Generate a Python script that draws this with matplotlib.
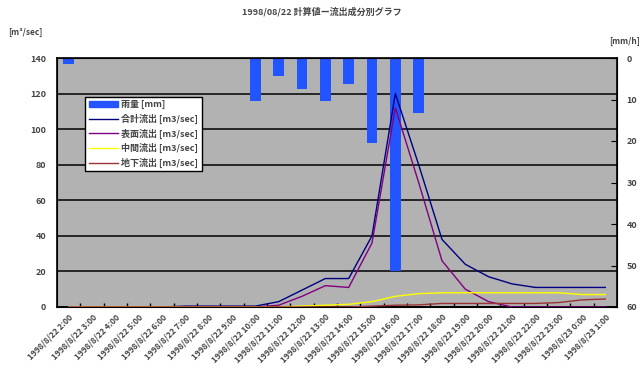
import numpy as np
import matplotlib
matplotlib.use("Agg")
import matplotlib.pyplot as plt
from matplotlib.patches import Patch
from matplotlib.lines import Line2D

plt.rcParams['font.family'] = ['Noto Sans CJK JP', 'DejaVu Sans']

# 時刻ラベル
times = ["1998/8/22 %d:00" % h for h in range(2, 24)] + ["1998/8/23 0:00", "1998/8/23 1:00"]

# 雨量 [mm/h]
rain = [1.4, 0, 0, 0, 0, 0, 0, 0, 10.4, 4.3, 7.5, 10.4, 6.3, 20.5, 51.3, 13.3,
        0, 0, 0, 0, 0, 0, 0, 0]
# 流出量 [m3/sec]
total = [0, 0, 0, 0, 0, 0.5, 0.5, 0.5, 0.5, 3, 9.5, 16, 16, 40, 120, 80,
         38, 24, 17, 13, 11, 11, 11, 11]
surface = [0, 0, 0, 0, 0, 0, 0, 0, 0, 1, 6, 12, 11, 36, 112, 70,
           26, 10, 3, 0, 0, 0, 0, 0]
middle = [0, 0, 0, 0, 0, 0, 0, 0, 0, 0, 0.5, 1, 1.5, 3, 6, 7.5,
          8, 8, 8, 8, 8, 8, 7, 7]
ground = [0, 0, 0, 0, 0, 0, 0, 0, 0, 0, 0, 0, 0, 0.5, 1, 1.2,
          2, 2, 2, 2, 2, 2.5, 4, 4.5]

x = np.arange(len(times))
txt = '#444444'

fig = plt.figure(figsize=(6.44, 3.82), dpi=100)
pos = [57 / 644, 1 - 307 / 382, 560 / 644, 249 / 382]

# 背景と目盛線（左軸）
ax = fig.add_axes(pos)
ax.set_facecolor('#B2B2B2')
ax.set_xlim(-0.5, len(x) - 0.5)
ax.set_ylim(0, 140)
ax.set_yticks(np.arange(0, 141, 20))
ax.yaxis.grid(True, color='black', linewidth=1.1)
ax.set_axisbelow(True)
ax.tick_params(axis='y', length=0, labelsize=6.5, labelcolor=txt, pad=8)
for t in ax.get_yticklabels():
    t.set_fontweight('bold')
ax.set_xticks(x)
ax.set_xticklabels(times, rotation=45, ha='right', va='top', rotation_mode='anchor',
                   fontsize=6, color=txt, fontweight='bold')
ax.set_xticks(np.arange(0.5, len(x) - 0.5, 1), minor=True)
ax.tick_params(axis='x', which='major', length=0, pad=4)
ax.tick_params(axis='x', which='minor', direction='in', length=3, width=1)
for s in ax.spines.values():
    s.set_linewidth(1.2)

# 雨量（右軸、反転）
ax2 = ax.twinx()
ax2.set_ylim(60, 0)
ax2.set_yticks(np.arange(0, 61, 10))
ax2.tick_params(axis='y', direction='in', length=4, labelsize=6.5, labelcolor=txt, pad=7)
for t in ax2.get_yticklabels():
    t.set_fontweight('bold')
ax2.bar(x, rain, width=0.45, color='#2255FF', zorder=2)
ax2.set_xlim(-0.5, len(x) - 0.5)

# 流出量の線
ax3 = ax.twinx()
ax3.set_ylim(0, 140)
ax3.set_xlim(-0.5, len(x) - 0.5)
ax3.axis('off')
ax3.plot(x, total, color='#000080', lw=1.0)
ax3.plot(x, surface, color='#800080', lw=1.0)
ax3.plot(x, middle, color='#FFFF00', lw=1.0)
ax3.plot(x, ground, color='#993333', lw=1.0)

handles = [Patch(color='#2255FF', label='雨量 [mm]'),
           Line2D([], [], color='#000080', lw=1, label='合計流出 [m3/sec]'),
           Line2D([], [], color='#800080', lw=1, label='表面流出 [m3/sec]'),
           Line2D([], [], color='#FFFF00', lw=1, label='中間流出 [m3/sec]'),
           Line2D([], [], color='#993333', lw=1, label='地下流出 [m3/sec]')]
leg = ax3.legend(handles=handles, loc='upper left', bbox_to_anchor=(0.05, 0.845),
                 fontsize=6.5, frameon=True, fancybox=False, framealpha=1,
                 edgecolor='black', borderpad=0.4, labelspacing=0.5,
                 handlelength=3.2, handletextpad=0.4, borderaxespad=0)
leg.get_frame().set_linewidth(1.0)
for t in leg.get_texts():
    t.set_color(txt)
    t.set_fontweight('bold')

fig.text(0.5, 1 - 12 / 382, '1998/08/22 計算値ー流出成分別グラフ', ha='center', va='center',
         fontsize=6.5, color=txt, fontweight='bold')
fig.text(8 / 644, 1 - 32 / 382, '[m³/sec]', ha='left', va='center', fontsize=6, color=txt,
         fontweight='bold')
fig.text(640 / 644, 1 - 41 / 382, '[mm/h]', ha='right', va='center', fontsize=6, color=txt,
         fontweight='bold')

fig.savefig('out.png', dpi=100)
